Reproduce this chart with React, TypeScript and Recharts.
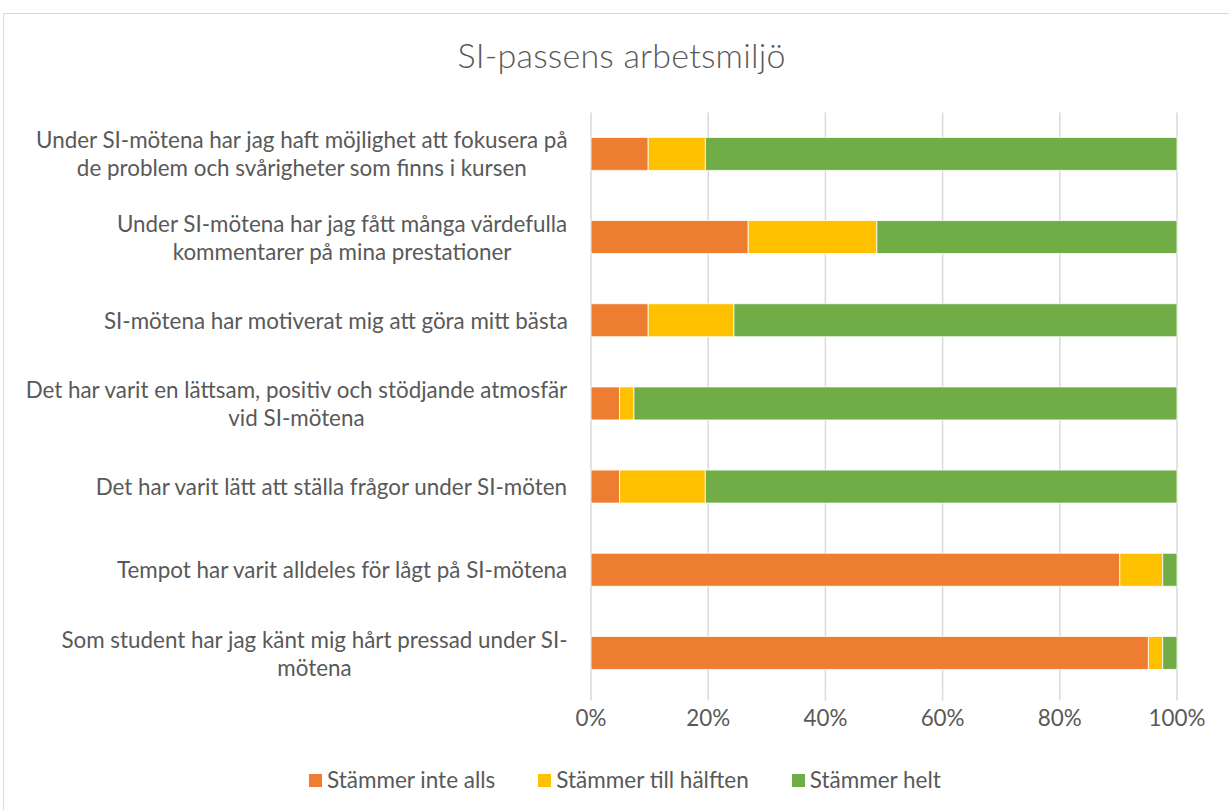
import { BarChart, Bar, XAxis, YAxis, CartesianGrid } from 'recharts'

const FONT = 'Lato, "Open Sans", sans-serif'
const TEXT = '#595959'
const LABEL_SIZE = 22.4

const categories = [
  'Under SI-mötena har jag haft möjlighet att fokusera på\nde problem och svårigheter som finns i kursen',
  'Under SI-mötena har jag fått många värdefulla\nkommentarer på mina prestationer',
  'SI-mötena har motiverat mig att göra mitt bästa',
  'Det har varit en lättsam, positiv och stödjande atmosfär\nvid SI-mötena',
  'Det har varit lätt att ställa frågor under SI-möten',
  'Tempot har varit alldeles för lågt på SI-mötena',
  'Som student har jag känt mig hårt pressad under SI-\nmötena',
]

// share of answers per statement, in percent
const inteAlls = [9.76, 26.83, 9.76, 4.88, 4.88, 90.24, 95.12]
const tillHalften = [9.76, 21.95, 14.63, 2.44, 14.63, 7.32, 2.44]
const helt = [80.48, 51.22, 75.61, 92.68, 80.49, 2.44, 2.44]

const xTicks = [0, 20, 40, 60, 80, 100]

const series = [
  { key: 'inteAlls', name: 'Stämmer inte alls', color: '#ED7D31' },
  { key: 'tillHalften', name: 'Stämmer till hälften', color: '#FFC000' },
  { key: 'helt', name: 'Stämmer helt', color: '#70AD47' },
]

const data = categories.map((c, i) => ({
  label: c,
  inteAlls: inteAlls[i],
  tillHalften: tillHalften[i],
  helt: helt[i],
}))

let ctx: CanvasRenderingContext2D | null = null
function measure(text: string) {
  if (!ctx) ctx = document.createElement('canvas').getContext('2d')
  if (!ctx) return text.length * 10
  ctx.font = `${LABEL_SIZE}px ${FONT}`
  return ctx.measureText(text).width
}

function CategoryTick({ x, y, payload }: any) {
  const lines: string[] = String(payload.value).split('\n')
  // block is right aligned, lines centred inside it (like Excel)
  const w = Math.max(...lines.map(measure))
  const cx = x - w / 2
  const lh = 28
  const start = y - ((lines.length - 1) * lh) / 2
  return (
    <text x={cx} y={start} textAnchor="middle" fill={TEXT} fontSize={LABEL_SIZE} fontFamily={FONT}>
      {lines.map((l, i) => (
        <tspan key={i} x={cx} y={start + i * lh} dominantBaseline="central">
          {l}
        </tspan>
      ))}
    </text>
  )
}

export default function App() {
  return (
    <div style={{ position: 'absolute', left: 0, top: 0, width: 1229, height: 810, background: '#fff', overflow: 'hidden' }}>
      <div
        style={{
          position: 'absolute',
          left: 3,
          top: 13,
          width: 1240,
          height: 820,
          border: '1.5px solid #d9d9d9',
          boxSizing: 'border-box',
        }}
      />
      <div
        style={{
          position: 'absolute',
          left: 0,
          top: 35,
          width: 1243,
          textAlign: 'center',
          fontFamily: FONT,
          fontWeight: 300,
          fontSize: 34,
          letterSpacing: 0.2,
          lineHeight: '40px',
          color: TEXT,
        }}
      >
        SI-passens arbetsmiljö
      </div>
      <div style={{ position: 'absolute', left: 0, top: 0 }}>
        <BarChart
          width={1229}
          height={810}
          data={data}
          layout="vertical"
          barSize={33}
          margin={{ top: 112.4, right: 52, bottom: 85.4, left: 0 }}
        >
          <CartesianGrid horizontal={false} stroke="#d9d9d9" strokeWidth={1.5} />
          <XAxis
            type="number"
            domain={[0, 100]}
            ticks={xTicks}
            tickFormatter={(v) => `${v}%`}
            axisLine={false}
            tickLine={{ stroke: '#d9d9d9', strokeWidth: 1.5 }}
            tickSize={6}
            tickMargin={9}
            height={30}
            tick={{ fill: TEXT, fontSize: LABEL_SIZE, fontFamily: FONT }}
          />
          <YAxis
            type="category"
            dataKey="label"
            width={591}
            axisLine={false}
            tickLine={false}
            tickSize={0}
            tickMargin={23}
            tick={<CategoryTick />}
            interval={0}
          />
          {series.map((s) => (
            <Bar
              key={s.key}
              dataKey={s.key}
              name={s.name}
              stackId="a"
              fill={s.color}
              stroke="#fff"
              strokeWidth={0.8}
              isAnimationActive={false}
            />
          ))}
        </BarChart>
      </div>
      <div
        style={{
          position: 'absolute',
          left: 309,
          top: 765,
          display: 'flex',
          gap: 43,
          fontFamily: FONT,
          fontSize: 22.5,
          color: TEXT,
          lineHeight: '30px',
        }}
      >
        {series.map((s) => (
          <div key={s.key} style={{ display: 'flex', alignItems: 'center', gap: 5 }}>
            <div style={{ width: 13, height: 13, background: s.color }} />
            <span>{s.name}</span>
          </div>
        ))}
      </div>
    </div>
  )
}
